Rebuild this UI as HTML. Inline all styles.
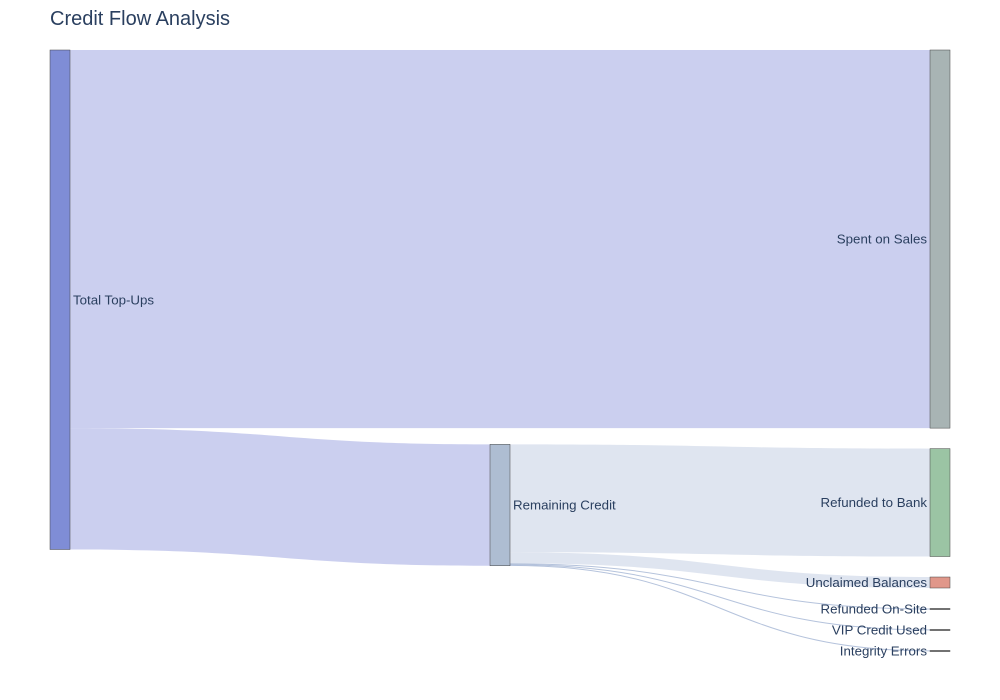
<!DOCTYPE html>
<html>
<head>
<meta charset="utf-8">
<style>
  html,body{margin:0;padding:0;background:#fff;}
  svg{display:block;font-family:"Liberation Sans",Arial,sans-serif;}
</style>
</head>
<body>
<svg id="chart" width="1000" height="700">
  <text x="50" y="25" font-size="20" fill="#2a3f5f">Credit Flow Analysis</text>
  <g id="links"></g>
  <g id="nodes"></g>
</svg>
<script>
const nodeLabels = ["Total Top-Ups","Spent on Sales","Remaining Credit","Refunded to Bank","Unclaimed Balances","Refunded On-Site","VIP Credit Used","Integrity Errors"];
const nodeColumns = [0,2,1,2,2,2,2,2];
const nodeColors = ["#7f8dd6","#a8b4b4","#aebdd2","#9bc4a4","#e0978a","#444","#444","#444"];
const linkSources = [0,0,2,2,2,2,2];
const linkTargets = [1,2,3,4,5,6,7];
const linkValues = [757,243,216,22,2,1.5,1.5];
const linkColors = ["rgba(160,168,225,0.55)","rgba(160,168,225,0.55)","rgba(196,208,228,0.55)","rgba(196,208,228,0.55)","rgba(150,170,205,0.7)","rgba(150,170,205,0.7)","rgba(150,170,205,0.7)"];

const NS="http://www.w3.org/2000/svg";
const top0=50, pad=20.5, nodeW=20;
const colX=[50,490,930];
const n=nodeLabels.length;
const inV=new Array(n).fill(0), outV=new Array(n).fill(0);
linkValues.forEach((v,i)=>{outV[linkSources[i]]+=v; inV[linkTargets[i]]+=v;});
const val=nodeLabels.map((_,i)=>Math.max(inV[i],outV[i]));
const total=val[0];
const scale=499.5/total;
const y0=new Array(n), h=new Array(n);
[0,2].forEach(c=>{
  let y=top0;
  for(let i=0;i<n;i++){ if(nodeColumns[i]!==c) continue;
    y0[i]=y; h[i]=Math.max(val[i]*scale,1); y+=h[i]+(h[i]<2?20:pad); }
});
for(let i=0;i<n;i++){ if(nodeColumns[i]!==1) continue;
  h[i]=val[i]*scale;
}
const sOff=new Array(n).fill(0), tOff=new Array(n).fill(0);
const linkGeom=[];
linkValues.forEach((v,i)=>{
  const s=linkSources[i], t=linkTargets[i];
  linkGeom.push({s,t,w:v*scale});
});
linkGeom.forEach(g=>{ if(nodeColumns[g.s]===0){ g.sy=y0[g.s]+sOff[g.s]; sOff[g.s]+=g.w; }});
linkGeom.forEach(g=>{ if(nodeColumns[g.t]===2){ g.ty=y0[g.t]+tOff[g.t]; tOff[g.t]+=g.w; }});
for(let i=0;i<n;i++){ if(nodeColumns[i]!==1) continue;
  let sc=0,sw=0,tc=0,tw=0;
  linkGeom.forEach(g=>{
    if(g.t===i && g.sy!==undefined){ sc+=(g.sy+g.w/2)*g.w; sw+=g.w; }
    if(g.s===i && g.ty!==undefined){ tc+=(g.ty+g.w/2)*g.w; tw+=g.w; }
  });
  const c=(sc/sw + 2*(tc/tw))/3 + 0.5;
  y0[i]=c-h[i]/2;
}
linkGeom.forEach(g=>{
  if(g.sy===undefined){ g.sy=y0[g.s]+sOff[g.s]; sOff[g.s]+=g.w; }
  if(g.ty===undefined){ g.ty=y0[g.t]+tOff[g.t]; tOff[g.t]+=g.w; }
});
const lg=document.getElementById('links');
linkGeom.forEach((g,i)=>{
  const x0=colX[nodeColumns[g.s]]+nodeW, x1=colX[nodeColumns[g.t]];
  const xm=(x0+x1)/2;
  const p=document.createElementNS(NS,'path');
  let d;
  if(g.w<2){
    const a=g.sy+g.w/2,b=g.ty+g.w/2;
    d=`M${x0},${a}C${xm},${a} ${xm},${b} ${x1},${b}`;
    p.setAttribute('fill','none');
    p.setAttribute('stroke',linkColors[i]);
    p.setAttribute('stroke-width',1);
  } else {
    d=`M${x0},${g.sy}C${xm},${g.sy} ${xm},${g.ty} ${x1},${g.ty}L${x1},${g.ty+g.w}C${xm},${g.ty+g.w} ${xm},${g.sy+g.w} ${x0},${g.sy+g.w}Z`;
    p.setAttribute('fill',linkColors[i]);
  }
  p.setAttribute('d',d);
  
  
  lg.appendChild(p);
});
const ng=document.getElementById('nodes');
for(let i=0;i<n;i++){
  const x=colX[nodeColumns[i]];
  const r=document.createElementNS(NS,'rect');
  r.setAttribute('x',x); r.setAttribute('y',y0[i]);
  r.setAttribute('width',nodeW); r.setAttribute('height',h[i]);
  r.setAttribute('fill',nodeColors[i]);
  r.setAttribute('stroke','#444'); r.setAttribute('stroke-width',0.5);
  
  
  ng.appendChild(r);
  const t=document.createElementNS(NS,'text');
  const right=nodeColumns[i]===2;
  t.setAttribute('x',right?x-3:x+nodeW+3);
  t.setAttribute('y',y0[i]+h[i]/2+4.5);
  t.setAttribute('text-anchor',right?'end':'start');
  t.setAttribute('font-size',13.3);
  t.setAttribute('fill','#2a3f5f');
  
  
  t.textContent=nodeLabels[i];
  ng.appendChild(t);
}
</script>
</body>
</html>
